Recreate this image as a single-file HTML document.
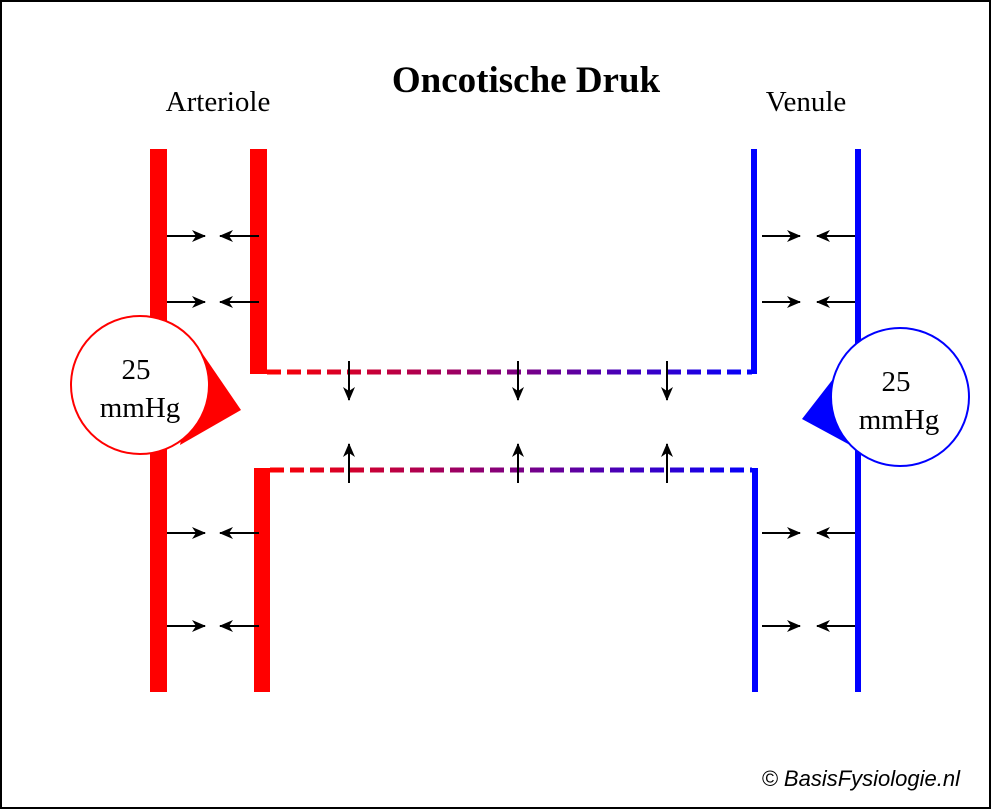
<!DOCTYPE html>
<html><head><style>body{margin:0;background:#fff}svg{display:block}</style></head><body>
<svg width="992" height="810" viewBox="0 0 992 810" xmlns="http://www.w3.org/2000/svg">
<defs>
<linearGradient id="g" x1="266" x2="758" y1="0" y2="0" gradientUnits="userSpaceOnUse"><stop offset="0" stop-color="#f00"/><stop offset="1" stop-color="#00f"/></linearGradient>
<marker id="a" markerWidth="14" markerHeight="12" refX="13" refY="6" orient="auto" markerUnits="userSpaceOnUse"><path d="M0,0 L14,6 L0,12 L4,6Z" fill="#000"/></marker>
</defs>
<rect x="1" y="1" width="989" height="807" fill="#fff" stroke="#000" stroke-width="2"/>
<text x="526" y="92" text-anchor="middle" font-family="Liberation Serif" font-weight="bold" font-size="37">Oncotische Druk</text>
<text x="218" y="111" text-anchor="middle" font-family="Liberation Serif" font-size="29">Arteriole</text>
<text x="806" y="111" text-anchor="middle" font-family="Liberation Serif" font-size="29">Venule</text>
<rect x="150" y="149" width="17" height="543" fill="#f00"/>
<rect x="250" y="149" width="17" height="225" fill="#f00"/>
<rect x="254" y="468" width="16" height="224" fill="#f00"/>
<rect x="751" y="149" width="6" height="225" fill="#00f"/>
<rect x="855" y="149" width="6" height="543" fill="#00f"/>
<rect x="752" y="468" width="6" height="224" fill="#00f"/>
<line x1="267" y1="372" x2="752" y2="372" stroke="url(#g)" stroke-width="5" stroke-dasharray="14 6"/>
<line x1="270" y1="470" x2="752" y2="470" stroke="url(#g)" stroke-width="5" stroke-dasharray="14 6"/>
<g stroke="#000" stroke-width="2" marker-end="url(#a)">
<line x1="167" y1="236" x2="205" y2="236"/><line x1="259" y1="236" x2="220" y2="236"/>
<line x1="167" y1="302" x2="205" y2="302"/><line x1="259" y1="302" x2="220" y2="302"/>
<line x1="167" y1="533" x2="205" y2="533"/><line x1="259" y1="533" x2="220" y2="533"/>
<line x1="167" y1="626" x2="205" y2="626"/><line x1="259" y1="626" x2="220" y2="626"/>
<line x1="762" y1="236" x2="800" y2="236"/><line x1="855" y1="236" x2="817" y2="236"/>
<line x1="762" y1="302" x2="800" y2="302"/><line x1="855" y1="302" x2="817" y2="302"/>
<line x1="762" y1="533" x2="800" y2="533"/><line x1="855" y1="533" x2="817" y2="533"/>
<line x1="762" y1="626" x2="800" y2="626"/><line x1="855" y1="626" x2="817" y2="626"/>
<line x1="349" y1="361" x2="349" y2="400"/><line x1="518" y1="361" x2="518" y2="400"/><line x1="667" y1="361" x2="667" y2="400"/>
<line x1="349" y1="483" x2="349" y2="444"/><line x1="518" y1="483" x2="518" y2="444"/><line x1="667" y1="483" x2="667" y2="444"/>
</g>
<path d="M200,350 L241,410 L180,445 Z" fill="#f00"/>
<circle cx="140" cy="385" r="69" fill="#fff" stroke="#f00" stroke-width="2"/>
<text x="136" y="379" text-anchor="middle" font-family="Liberation Serif" font-size="29">25</text>
<text x="140" y="417" text-anchor="middle" font-family="Liberation Serif" font-size="29">mmHg</text>
<path d="M840,370 L802,419 L850,445 Z" fill="#00f"/>
<circle cx="900" cy="397" r="69" fill="#fff" stroke="#00f" stroke-width="2"/>
<text x="896" y="391" text-anchor="middle" font-family="Liberation Serif" font-size="29">25</text>
<text x="899" y="429" text-anchor="middle" font-family="Liberation Serif" font-size="29">mmHg</text>
<text x="960" y="786" text-anchor="end" font-family="Liberation Sans" font-style="italic" font-size="22">© BasisFysiologie.nl</text>
</svg>
</body></html>
